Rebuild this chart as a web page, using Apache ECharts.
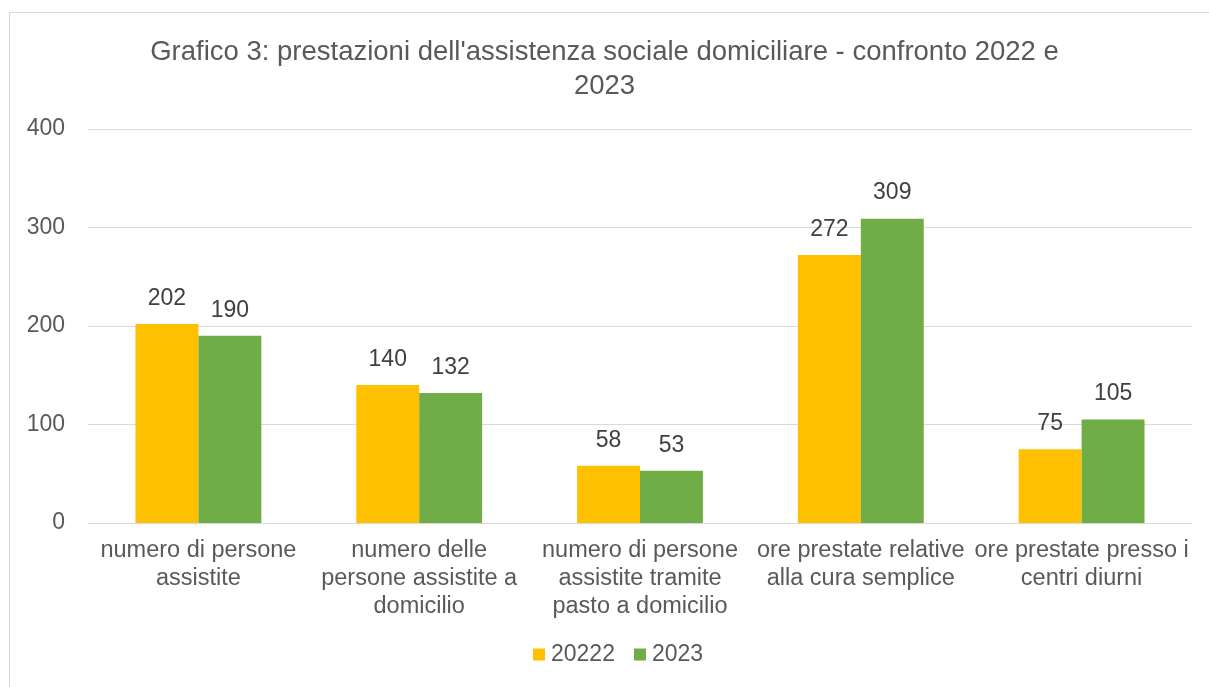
<!DOCTYPE html>
<html>
<head>
<meta charset="utf-8">
<script src="https://cdn.jsdelivr.net/npm/echarts@6/dist/echarts.min.js"></script>
<style>
  html, body { margin: 0; padding: 0; background: #fff; }
  #frame {
    position: absolute; left: 9px; top: 12px;
    width: 1220px; height: 700px;
    border: 1px solid #d9d9d9; box-sizing: border-box;
  }
  #main { position: absolute; left: 0; top: 0; width: 1209px; height: 687px; }
</style>
</head>
<body>
<div id="frame"></div>
<div id="main"></div>
<script>
const categories = [
  "numero di persone\nassistite",
  "numero delle\npersone assistite a\ndomicilio",
  "numero di persone\nassistite tramite\npasto a domicilio",
  "ore prestate relative\nalla cura semplice",
  "ore prestate presso i\ncentri diurni"
];
const values2022 = [202, 140, 58, 272, 75];
const values2023 = [190, 132, 53, 309, 105];
const seriesNames = ["20222", "2023"];

const font = "Liberation Sans, Arial, sans-serif";
const labelStyle = {
  show: true,
  position: "top",
  distance: 14,
  color: "#404040",
  fontFamily: font,
  fontSize: 23
};

const option = {
  backgroundColor: "transparent",
  animation: false,
  title: {
    text: "Grafico 3: prestazioni dell'assistenza sociale domiciliare - confronto 2022 e\n2023",
    left: "center",
    top: 30,
    textStyle: {
      color: "#595959",
      fontFamily: font,
      fontSize: 27.5,
      fontWeight: "normal",
      lineHeight: 34
    }
  },
  legend: {
    bottom: 16,
    left: 528,
    itemWidth: 12,
    itemHeight: 12,
    itemGap: 19,
    icon: "rect",
    textStyle: { color: "#595959", fontFamily: font, fontSize: 23, padding: [0, 0, 0, 1] },
    data: seriesNames
  },
  grid: { left: 88, right: 17, top: 129, bottom: 164, containLabel: false },
  xAxis: {
    type: "category",
    data: categories,
    axisLine: { lineStyle: { color: "#d9d9d9", width: 1 } },
    axisTick: { show: false },
    axisLabel: {
      color: "#595959",
      fontFamily: font,
      fontSize: 23.5,
      lineHeight: 28,
      margin: 14,
      interval: 0
    }
  },
  yAxis: {
    type: "value",
    min: 0,
    max: 400,
    interval: 100,
    axisLine: { show: false },
    axisTick: { show: false },
    splitLine: { lineStyle: { color: "#d9d9d9", width: 1 } },
    axisLabel: { color: "#595959", fontFamily: font, fontSize: 23, margin: 23 }
  },
  series: [
    {
      name: seriesNames[0],
      type: "bar",
      data: values2022,
      barGap: "0%",
      barCategoryGap: "43%",
      itemStyle: { color: "#FFC000" },
      label: labelStyle
    },
    {
      name: seriesNames[1],
      type: "bar",
      data: values2023,
      barGap: "0%",
      barCategoryGap: "43%",
      itemStyle: { color: "#70AD47" },
      label: labelStyle
    }
  ]
};

const myChart = echarts.init(document.getElementById("main"));
myChart.setOption(option);
</script>
</body>
</html>
